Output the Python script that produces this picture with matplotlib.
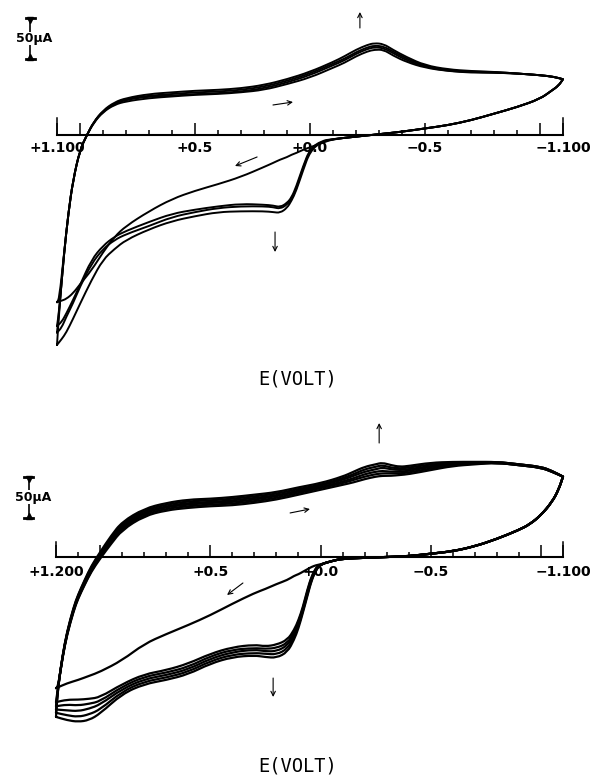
"""Repeated-scan cyclic voltammograms (two panels), redrawn from the scanned chart."""
import matplotlib
matplotlib.use("Agg")
import matplotlib.pyplot as plt
from matplotlib.patches import PathPatch
from matplotlib.path import Path
from matplotlib.ticker import FixedLocator, MultipleLocator
import numpy as np

PX_PER_UA = 0.82          # the 50 uA bar is 41 px tall in both panels

# --------------------------------------------------------------------------- #
# top panel: +1.100 .. -1.100 V, four cycles (1 = first, 4 = last)
TOP_UP_E = [1.10, 1.09, 1.07, 1.05, 1.03, 1.00, 0.97, 0.94, 0.90, 0.85, 0.80, 0.70,
            0.60, 0.50, 0.40, 0.30, 0.20, 0.10, 0.00, -0.10, -0.15, -0.20, -0.25,
            -0.28, -0.32, -0.36, -0.42, -0.50, -0.60, -0.70, -0.80, -0.90, -1.00,
            -1.06, -1.10]
TOP_UP_C1 = [-204, -199, -146, -94, -55, -18, 0, 15, 28, 37, 41, 45, 47, 49, 50, 52, 55,
             62, 70, 82, 88, 96, 102, 104, 104, 97, 89, 82, 78, 76, 76, 75, 73, 71, 68]
TOP_UP_C2 = [-233, -213, -146, -94, -55, -18, 0, 16, 29, 38, 43, 47, 48, 50, 51, 53, 57,
             64, 73, 85, 91, 99, 105, 107, 106, 100, 91, 83, 78, 77, 76, 75, 73, 71, 68]
TOP_UP_C3 = [-241, -213, -146, -94, -55, -18, 0, 16, 29, 39, 44, 48, 50, 52, 53, 55, 59,
             66, 75, 87, 93, 101, 107, 109, 108, 102, 93, 84, 79, 77, 77, 75, 73, 71, 68]
TOP_UP_C4 = [-256, -213, -146, -94, -55, -18, 0, 16, 30, 40, 45, 50, 52, 54, 55, 57, 61,
             68, 77, 89, 96, 104, 110, 112, 111, 104, 95, 85, 80, 78, 77, 75, 73, 71, 68]

TOP_LOW_E_COMMON = [-1.10, -1.08, -1.05, -1.00, -0.90, -0.80, -0.70, -0.60, -0.50,
                    -0.40, -0.30, -0.20, -0.10]
TOP_LOW_I_COMMON = [68, 60, 54, 44, 34, 26, 18, 12, 8, 4, 1, -2, -5]
TOP_LOW_E_TAIL = [-0.05, 0.00, 0.03, 0.06, 0.08, 0.10, 0.13, 0.16, 0.20, 0.30, 0.40,
                  0.50, 0.60, 0.70, 0.80, 0.85, 0.90, 0.95, 1.00, 1.03, 1.06, 1.08, 1.10]
TOP_LOW_C1 = [-10, -15, -18, -22, -24, -27, -30, -34, -39, -51, -60, -68, -78, -93,
              -111, -124, -143, -165, -182, -193, -200, -202, -204]
TOP_LOW_C2 = [-7, -17, -38, -63, -76, -83, -88, -86, -85, -84, -87, -91, -96, -106,
              -117, -124, -135, -152, -183, -201, -218, -228, -233]
TOP_LOW_C3 = [-8, -18, -40, -66, -78, -85, -90, -88, -87, -87, -89, -94, -100, -111,
              -121, -128, -139, -157, -185, -205, -222, -235, -241]
TOP_LOW_C4 = [-8, -20, -43, -68, -80, -89, -95, -94, -93, -93, -94, -99, -105, -115,
              -128, -139, -152, -177, -206, -224, -241, -249, -256]

# bottom panel: +1.200 .. -1.100 V, six cycles
BOT_UP_E = [1.20, 1.19, 1.17, 1.15, 1.12, 1.10, 1.07, 1.04, 1.00, 0.95, 0.90, 0.80,
            0.70, 0.60, 0.50, 0.40, 0.30, 0.20, 0.10, 0.00, -0.10, -0.15, -0.20,
            -0.25, -0.28, -0.32, -0.36, -0.40, -0.50, -0.60, -0.70, -0.80, -0.90,
            -1.00, -1.05, -1.10]
BOT_UP_C1 = [-160, -157, -122, -95, -66, -51, -34, -18, -2, 16, 33, 50, 57, 60, 62, 63,
             66, 70, 76, 82, 88, 91, 95, 98, 99, 99, 100, 101, 106, 111, 113, 115, 112,
             109, 104, 98]
BOT_UP_C2 = [-177, -157, -122, -94, -65, -50, -33, -17, 0, 18, 35, 52, 59, 62, 64, 65,
             68, 72, 78, 84, 90, 94, 98, 101, 102, 102, 102, 103, 108, 112, 114, 115, 112,
             109, 104, 98]
BOT_UP_C3 = [-182, -157, -121, -93, -64, -49, -32, -15, 1, 20, 37, 54, 61, 64, 66, 67,
             70, 74, 80, 85, 92, 96, 101, 104, 105, 104, 104, 105, 110, 113, 114, 115, 112,
             109, 104, 98]
BOT_UP_C4 = [-186, -157, -121, -93, -63, -48, -30, -14, 3, 22, 39, 55, 62, 66, 67, 69,
             72, 75, 81, 87, 94, 99, 104, 107, 109, 107, 106, 107, 111, 114, 115, 116, 113,
             110, 105, 98]
BOT_UP_C5 = [-190, -157, -120, -92, -62, -47, -29, -12, 4, 24, 41, 57, 64, 68, 69, 71,
             74, 77, 83, 88, 96, 101, 107, 110, 112, 109, 108, 109, 113, 115, 115, 116, 113,
             110, 105, 98]
BOT_UP_C6 = [-195, -157, -120, -91, -61, -46, -28, -11, 6, 26, 43, 59, 66, 70, 71, 73,
             76, 79, 85, 90, 98, 104, 110, 113, 115, 112, 110, 111, 115, 116, 116, 116, 113,
             110, 105, 98]

BOT_LOW_E_COMMON = [-1.10, -1.08, -1.05, -1.00, -0.95, -0.90, -0.80, -0.70, -0.60,
                    -0.50, -0.40, -0.30, -0.20, -0.10, -0.05]
BOT_LOW_I_COMMON = [98, 82, 67, 51, 40, 33, 22, 13, 7, 4, 1, 0, -1, -2, -5]
BOT_LOW_E_TAIL = [0.00, 0.02, 0.04, 0.06, 0.08, 0.10, 0.12, 0.15, 0.20, 0.25, 0.30,
                  0.40, 0.50, 0.60, 0.70, 0.80, 0.90, 1.00, 1.05, 1.10, 1.15, 1.20]
BOT_LOW_C1 = [-9, -10, -12, -15, -18, -21, -23, -28, -33, -39, -44, -57, -71, -83, -94,
              -106, -126, -140, -145, -150, -154, -160]
BOT_LOW_C2 = [-9, -13, -23, -40, -61, -77, -89, -101, -107, -109, -107, -110, -118, -130,
              -138, -143, -155, -171, -173, -174, -174, -177]
BOT_LOW_C3 = [-9, -14, -24, -42, -63, -79, -92, -105, -111, -112, -111, -113, -121, -134,
              -141, -146, -158, -176, -179, -181, -180, -182]
BOT_LOW_C4 = [-9, -15, -26, -44, -65, -82, -95, -108, -115, -115, -113, -116, -124, -137,
              -144, -149, -161, -180, -185, -188, -187, -186]
BOT_LOW_C5 = [-9, -15, -27, -46, -66, -84, -98, -112, -119, -118, -117, -119, -127, -140,
              -147, -152, -164, -186, -192, -195, -193, -190]
BOT_LOW_C6 = [-9, -16, -28, -48, -68, -87, -101, -116, -123, -122, -120, -122, -130, -143,
              -150, -155, -167, -191, -199, -201, -199, -195]

TOP_TICK_LABELS = ["+1.100", "", "+0.5", "+0.0", "\u22120.5", "", "\u22121.100"]
BOT_TICK_LABELS = ["+1.200", "", "+0.5", "+0.0", "\u22120.5", "", "\u22121.100"]


def _potential_axis(ax, e_left, e_right, labels, end_px, pad):
    ax.set_xlim(e_left, e_right)
    for s in ("left", "right", "top"):
        ax.spines[s].set_visible(False)
    sp = ax.spines["bottom"]
    sp.set_position(("data", 0))
    sp.set_linewidth(1.5)
    ax.set_yticks([])
    ax.xaxis.set_major_locator(FixedLocator([e_left, 1.0, 0.5, 0.0, -0.5, -1.0, e_right]))
    ax.set_xticklabels(labels)
    ax.xaxis.set_minor_locator(MultipleLocator(0.1))
    ax.tick_params(axis="x", which="major", direction="in", length=8.6, width=1.1,
                   pad=pad, labelsize=10)
    ax.tick_params(axis="x", which="minor", direction="in", length=3.8, width=1.1)
    for lab in ax.get_xticklabels():
        lab.set_fontweight("bold")
    for e in (e_left, e_right):
        ax.plot([e, e], [0, end_px / PX_PER_UA], color="k", lw=1.1, clip_on=False)


def _scale_bar(ax, e, i_lo, e_txt, px_per_v):
    """50 uA bar with I-beam caps, broken where the label sits."""
    i_hi = i_lo + 50
    mid = 0.5 * (i_lo + i_hi)
    gap = 8.5
    hw = 4.5 / px_per_v
    kw = dict(color="k", lw=1.2, clip_on=False, solid_capstyle="butt")
    ax.plot([e, e], [i_hi, mid + gap], **kw)
    ax.plot([e, e], [mid - gap, i_lo], **kw)
    ax.plot([e - hw, e + hw], [i_hi, i_hi], color="k", lw=2.0, clip_on=False)
    ax.plot([e - hw, e + hw], [i_lo, i_lo], color="k", lw=2.0, clip_on=False)
    ax.plot([e], [i_hi - 2.5], marker="v", ms=4.5, color="k", clip_on=False)
    ax.plot([e], [i_lo + 2.5], marker="^", ms=4.5, color="k", clip_on=False)
    ax.text(e_txt, mid, "50\u00b5A", ha="center", va="center", fontsize=9,
            fontweight="bold", clip_on=False)


def _arrows(ax, pairs):
    for tail, head in pairs:
        ax.annotate("", xy=head, xytext=tail,
                    arrowprops=dict(arrowstyle="->", lw=0.8, color="k", shrinkA=0,
                                    shrinkB=0, mutation_scale=8))


def _smooth(e, i):
    # quadratic pieces through the segment midpoints: the read points act as
    # control vertices, so the pen trace comes out round instead of polygonal
    p = np.column_stack([e, i]).astype(float)
    m = 0.5 * (p[:-1] + p[1:])
    verts, codes = [p[0], m[0]], [Path.MOVETO, Path.LINETO]
    for k in range(1, len(p) - 1):
        verts += [p[k], m[k]]
        codes += [Path.CURVE3, Path.CURVE3]
    verts.append(p[-1]); codes.append(Path.LINETO)
    return Path(verts, codes)


def _cycles(ax, up_e, ups, low_e_c, low_i_c, low_e_t, lows, lw):
    e = np.concatenate([up_e, low_e_c, low_e_t])
    for up_i, low_t in zip(ups, lows):
        i = np.concatenate([up_i, low_i_c, low_t])
        ax.add_patch(PathPatch(_smooth(e, i), facecolor="none", edgecolor="k", lw=lw,
                               joinstyle="round", capstyle="round", clip_on=False))


def main() -> None:
    W, H = 595, 775
    fig = plt.figure(figsize=(W / 100, H / 100), dpi=100)

    # top panel: axis line at y=135 px, +1.1 V at x=57 px, -1.1 V at x=563 px
    ax1 = fig.add_axes([57 / W, 1 - 360 / H, 506 / W, 355 / H])
    ax1.set_ylim((135 - 360) / PX_PER_UA, (135 - 5) / PX_PER_UA)
    _cycles(ax1, TOP_UP_E, [TOP_UP_C1, TOP_UP_C2, TOP_UP_C3, TOP_UP_C4],
            TOP_LOW_E_COMMON, TOP_LOW_I_COMMON, TOP_LOW_E_TAIL,
            [TOP_LOW_C1, TOP_LOW_C2, TOP_LOW_C3, TOP_LOW_C4], 1.4)
    _potential_axis(ax1, 1.1, -1.1, TOP_TICK_LABELS, 17, 4)
    _scale_bar(ax1, 1.217, 92.7, 1.198, 230.0)
    _arrows(ax1, [((-0.217, 130.5), (-0.217, 150.0)),
                  ((0.161, 36.6), (0.074, 40.2)),
                  ((0.230, -26.8), (0.326, -37.8)),
                  ((0.152, -118.3), (0.152, -142.7))])
    fig.text(298 / W, 1 - 379 / H, "E(VOLT)", ha="center", va="center",
             fontsize=13.5, family="DejaVu Sans Mono")

    # bottom panel: axis line at y=557 px, +1.2 V at x=56 px, -1.1 V at x=563 px
    ax2 = fig.add_axes([56 / W, 1 - 735 / H, 507 / W, 325 / H])
    ax2.set_ylim((557 - 735) / PX_PER_UA, (557 - 410) / PX_PER_UA)
    _cycles(ax2, BOT_UP_E,
            [BOT_UP_C1, BOT_UP_C2, BOT_UP_C3, BOT_UP_C4, BOT_UP_C5, BOT_UP_C6],
            BOT_LOW_E_COMMON, BOT_LOW_I_COMMON, BOT_LOW_E_TAIL,
            [BOT_LOW_C1, BOT_LOW_C2, BOT_LOW_C3, BOT_LOW_C4, BOT_LOW_C5, BOT_LOW_C6], 1.6)
    _potential_axis(ax2, 1.2, -1.1, BOT_TICK_LABELS, 15, 6)
    _scale_bar(ax2, 1.3225, 47.6, 1.304, 220.4)
    _arrows(ax2, [((-0.266, 139.0), (-0.266, 163.4)),
                  ((0.138, 53.7), (0.048, 58.5)),
                  ((0.352, -31.7), (0.424, -46.3)),
                  ((0.215, -147.6), (0.215, -170.7))])
    fig.text(298 / W, 1 - 766 / H, "E(VOLT)", ha="center", va="center",
             fontsize=13.5, family="DejaVu Sans Mono")

    fig.savefig("out.png", dpi=100)
    plt.close(fig)


if __name__ == "__main__":
    main()
